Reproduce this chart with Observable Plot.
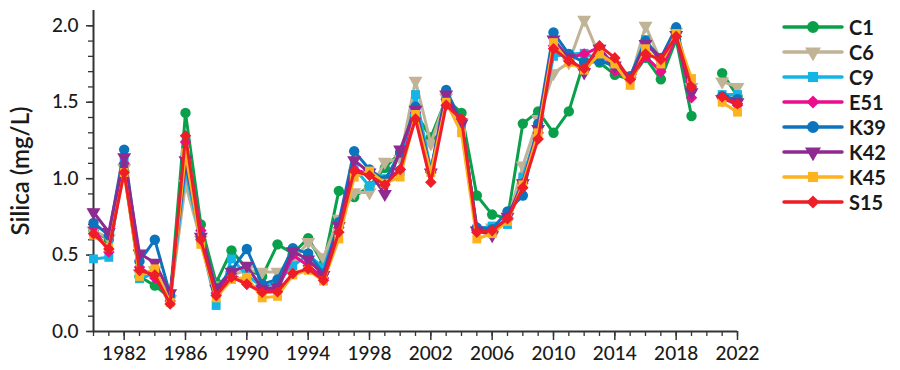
<!DOCTYPE html>
<html><head><meta charset="utf-8">
<script src="https://cdn.jsdelivr.net/npm/d3@7"></script>
<script src="https://cdn.jsdelivr.net/npm/@observablehq/plot@0.6"></script>
<style>
body{margin:0;background:#fff;}
#wrap{position:relative;width:900px;height:370px;font-family:Lato, sans-serif;}
#legend{position:absolute;left:782px;top:14px;}
.row{display:flex;align-items:center;height:25px;font-size:20px;font-weight:700;color:#1a1a1a;}
.row span{margin-left:5px;}
g[aria-label="y-axis label"] text{font-size:24px;font-weight:600;}
</style></head><body><div id="wrap"><div id="plot"></div><div id="legend"></div></div>
<script>
const years = [1980,1981,1982,1983,1984,1985,1986,1987,1988,1989,1990,1991,1992,1993,1994,1995,1996,1997,1998,1999,2000,2001,2002,2003,2004,2005,2006,2007,2008,2009,2010,2011,2012,2013,2014,2015,2016,2017,2018,2019,2021,2022];
const seriesNames = ["C1","C6","C9","E51","K39","K42","K45","S15"];
const C1  = [0.66,0.60,1.05,0.36,0.30,0.22,1.43,0.70,0.32,0.53,0.41,0.36,0.57,0.51,0.61,0.44,0.92,0.88,0.95,1.07,1.17,1.43,1.27,1.52,1.43,0.89,0.765,0.74,1.36,1.44,1.30,1.44,1.77,1.76,1.68,1.65,1.79,1.65,1.91,1.41,1.69,1.54];
const C6  = [0.66,0.61,1.07,0.38,0.40,0.21,0.965,0.60,0.30,0.37,0.40,0.39,0.39,0.46,0.585,0.485,0.737,0.91,0.91,1.11,1.13,1.64,1.23,1.53,1.37,0.66,0.68,0.72,1.085,1.39,1.69,1.76,2.04,1.80,1.72,1.64,2.00,1.77,1.96,1.60,1.635,1.60];
const C9  = [0.475,0.485,1.11,0.345,0.38,0.22,1.05,0.60,0.17,0.475,0.37,0.29,0.32,0.43,0.50,0.42,0.70,1.07,0.95,1.00,1.05,1.55,1.06,1.52,1.36,0.67,0.69,0.70,1.01,1.33,1.80,1.815,1.82,1.78,1.73,1.67,1.91,1.76,1.96,1.59,1.55,1.55];
const E51 = [0.68,0.52,1.10,0.42,0.35,0.20,1.24,0.66,0.25,0.38,0.31,0.27,0.27,0.50,0.43,0.35,0.68,1.06,1.03,0.98,1.06,1.43,1.04,1.52,1.38,0.66,0.66,0.74,0.97,1.30,1.87,1.79,1.815,1.86,1.705,1.65,1.80,1.70,1.93,1.53,1.53,1.48];
const K39 = [0.71,0.63,1.19,0.46,0.60,0.24,1.10,0.62,0.285,0.40,0.54,0.31,0.34,0.545,0.51,0.38,0.715,1.18,1.06,0.99,1.17,1.47,1.05,1.58,1.37,0.68,0.67,0.786,0.89,1.36,1.956,1.815,1.76,1.77,1.74,1.67,1.90,1.79,1.99,1.58,1.54,1.52];
const K42 = [0.78,0.65,1.14,0.51,0.45,0.25,1.12,0.62,0.28,0.39,0.43,0.28,0.29,0.525,0.47,0.37,0.69,1.12,1.04,0.90,1.19,1.45,1.04,1.55,1.36,0.66,0.63,0.75,0.97,1.325,1.91,1.79,1.695,1.85,1.74,1.66,1.88,1.79,1.94,1.565,1.52,1.50];
const K45 = [0.63,0.55,1.04,0.36,0.41,0.19,1.17,0.57,0.22,0.34,0.355,0.22,0.23,0.37,0.40,0.33,0.605,1.01,1.05,0.97,1.01,1.42,1.04,1.50,1.30,0.605,0.64,0.72,0.96,1.30,1.89,1.76,1.71,1.815,1.75,1.61,1.85,1.75,1.95,1.655,1.50,1.435];
const S15 = [0.64,0.54,1.04,0.40,0.37,0.18,1.28,0.60,0.235,0.355,0.31,0.257,0.26,0.38,0.41,0.335,0.65,1.05,1.02,0.96,1.06,1.39,0.976,1.48,1.39,0.65,0.66,0.737,0.94,1.26,1.85,1.77,1.72,1.87,1.79,1.65,1.815,1.78,1.93,1.60,1.535,1.49];
const xTickLabels = [1982,1986,1990,1994,1998,2002,2006,2010,2014,2018,2022];
const yTickLabels = [0,0.5,1,1.5,2];

const values = {C1,C6,C9,E51,K39,K42,K45,S15};
const colors = {C1:"#0aa04b",C6:"#c1b396",C9:"#12b5e5",E51:"#ea0d8c",K39:"#0b74bd",K42:"#8e2a90",K45:"#fdb21e",S15:"#ee1d27"};
const symbols = {C1:"circle",C6:"triangle",C9:"square",E51:"diamond2",K39:"circle",K42:"triangle",K45:"square",S15:"diamond2"};
const rot = {C1:0,C6:180,C9:0,E51:0,K39:0,K42:180,K45:0,S15:0};
const rad = {circle:5.2,triangle:5.2,square:5.0,diamond2:5.2};

const marks = [];
for (const s of seriesNames) {
  const rows = years.map((y,i)=>({year:y, v:values[s][i], seg: y>2020?1:0}));
  marks.push(Plot.line(rows,{x:"year",y:"v",z:"seg",stroke:colors[s],strokeWidth:3}));
  marks.push(Plot.dot(rows,{x:"year",y:"v",symbol:()=>symbols[s],r:rad[symbols[s]],fill:colors[s],stroke:"none",rotate:rot[s]}));
}

const chart = Plot.plot({
  width:900, height:370,
  marginLeft:93, marginRight:163, marginTop:10, marginBottom:39,
  style:{fontFamily:"Lato, sans-serif", background:"#fff", color:"#1a1a1a"},
  x:{domain:[1980,2022]},
  y:{domain:[0,2.1]},
  symbol:{type:"identity"},
  marks:[
    Plot.axisX({ticks:d3.range(1980,2023), tickSize:5, tickFormat:()=>"", stroke:"#333", strokeWidth:1.3, label:null}),
    Plot.axisX({ticks:xTickLabels, tickSize:9, tickPadding:6, tickFormat:d=>String(d), fontSize:19, fontWeight:500, stroke:"#333", strokeWidth:1.5, label:null}),
    Plot.axisY({ticks:d3.range(0,21).map(i=>i/10), tickSize:5, tickFormat:()=>"", stroke:"#333", strokeWidth:1.3, label:null}),
    Plot.axisY({ticks:yTickLabels, tickSize:7, tickPadding:8, tickFormat:d3.format(".1f"), fontSize:19, fontWeight:500, stroke:"#333", strokeWidth:1.5, label:"Silica (mg/L)", labelAnchor:"center", labelArrow:"none", labelOffset:82}),
    Plot.ruleY([0],{stroke:"#333",strokeWidth:2}),
    Plot.ruleX([1980],{y1:0,y2:2.1,stroke:"#333",strokeWidth:2}),
    ...marks
  ]
});
document.getElementById("plot").appendChild(chart);

const legend = document.getElementById("legend");
for (const s of seriesNames) {
  const row = document.createElement("div"); row.className="row";
  const sym = d3.symbol(d3["symbol"+({circle:"Circle",triangle:"Triangle",square:"Square",diamond2:"Diamond2"})[symbols[s]]], Math.PI*rad[symbols[s]]**2*1.3)();
  row.innerHTML = `<svg width="62" height="20"><line x1="2" x2="60" y1="10" y2="10" stroke="${colors[s]}" stroke-width="3.5" stroke-linecap="round"/><path d="${sym}" transform="translate(31,10) rotate(${rot[s]})" fill="${colors[s]}"/></svg><span>${s}</span>`;
  legend.appendChild(row);
}
</script></body></html>
